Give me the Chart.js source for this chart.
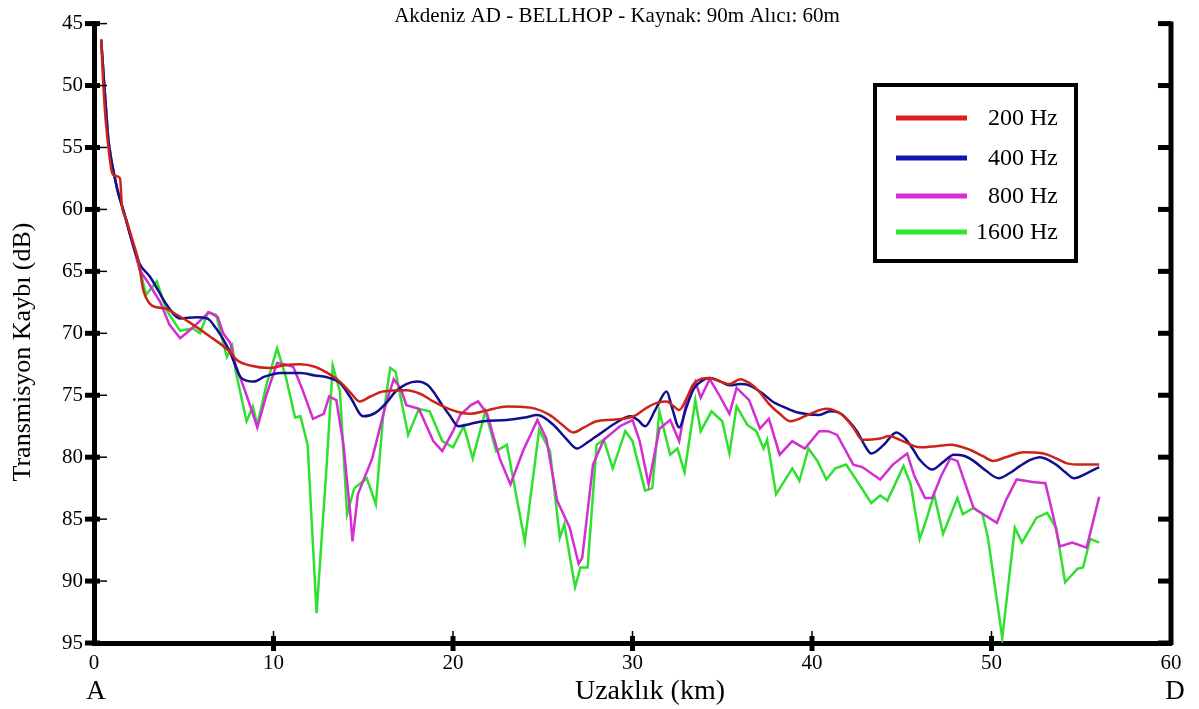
<!DOCTYPE html>
<html>
<head>
<meta charset="utf-8">
<script src="https://cdn.jsdelivr.net/npm/chart.js@4/dist/chart.umd.min.js"></script>
<style>
  html, body { margin: 0; padding: 0; background: #ffffff; }
  #wrap { width: 1199px; height: 709px; }
</style>
</head>
<body>
<div id="wrap"><canvas id="tl" width="1199" height="709"></canvas></div>
<script>
// Transmission loss versus range, four frequencies (BELLHOP run)
const chartTitle = 'Akdeniz AD - BELLHOP - Kaynak: 90m Alıcı: 60m';
const xTitle = 'Uzaklık (km)';
const yTitle = 'Transmisyon Kaybı (dB)';
const seriesLabels = ['200 Hz', '400 Hz', '800 Hz', '1600 Hz'];
const xTicks = [0, 10, 20, 30, 40, 50, 60];
const yTicks = [45, 50, 55, 60, 65, 70, 75, 80, 85, 90, 95];

// 200 Hz
const km200 = [0.4,0.5,0.65,0.85,1.0,1.2,1.45,1.55,1.8,2.17,2.5,2.73,3.1,3.5,4.0,4.5,5.3,6.4,7.5,8.0,8.7,9.8,10.5,11.5,12.3,13.0,13.7,14.3,14.8,15.4,16.1,17.4,18.2,18.9,19.6,20.4,21.0,21.7,23.0,24.3,25.4,26.1,26.7,27.3,28.0,29.5,30.2,30.8,31.4,31.9,32.3,32.6,33.0,33.4,34.3,34.9,35.4,36.0,36.5,37.0,37.6,38.2,38.8,39.3,39.9,40.8,41.2,41.7,42.3,42.8,43.8,44.3,44.9,46.0,47.0,47.7,48.8,49.5,50.1,50.8,51.8,52.9,53.6,54.2,55.0,56.0];
const tl200 = [46.3,49.4,52.8,55.6,57.0,57.3,57.5,59.6,60.8,62.6,64.3,66.4,67.6,67.9,68.0,68.4,69.1,70.2,71.4,72.2,72.6,72.8,72.6,72.5,72.7,73.2,73.9,74.8,75.5,75.1,74.7,74.6,74.9,75.5,76.0,76.4,76.5,76.3,75.9,76.0,76.6,77.4,78.0,77.6,77.1,76.9,76.6,76.0,75.6,75.5,75.9,76.2,75.3,74.1,73.6,73.9,74.1,73.7,74.0,74.6,75.7,76.5,77.1,76.9,76.5,76.1,76.2,76.6,77.6,78.6,78.5,78.3,78.6,79.2,79.1,79.0,79.4,79.9,80.3,80.0,79.6,79.7,80.1,80.5,80.6,80.6];

// 400 Hz
const km400 = [0.4,0.55,0.8,1.0,1.3,1.7,2.1,2.55,3.1,3.6,4.05,4.8,5.7,6.3,6.8,7.2,7.6,8.2,8.9,9.5,10.4,11.5,12.3,13.1,13.7,14.3,15.0,15.7,16.3,16.8,17.4,18.0,18.6,18.9,19.4,19.8,20.3,21.0,21.7,23.0,24.0,24.7,25.6,26.3,26.9,27.5,28.2,29.0,29.9,30.3,30.7,31.3,31.9,32.2,32.6,33.0,33.4,33.8,34.3,34.9,35.4,36.0,36.5,37.2,37.8,38.5,39.2,40.4,41.0,41.5,42.0,42.5,43.0,43.3,44.0,44.7,45.2,45.6,46.0,46.7,47.3,47.9,48.5,49.0,49.7,50.4,51.0,51.6,52.2,52.7,53.6,54.1,54.6,55.3,56.0];
const tl400 = [46.3,49.5,54.4,56.3,58.4,60.4,62.5,64.4,65.4,66.6,67.7,68.8,68.7,68.8,69.6,70.5,71.6,73.6,73.9,73.5,73.2,73.2,73.4,73.6,74.0,75.2,76.7,76.4,75.6,74.7,74.1,73.9,74.2,74.7,75.8,76.6,77.5,77.3,77.1,77.0,76.8,76.6,77.4,78.5,79.3,78.8,78.1,77.3,76.7,77.0,77.5,76.1,74.7,76.0,77.6,76.0,74.5,73.9,73.6,73.9,74.2,74.1,74.2,74.8,75.5,76.0,76.4,76.6,76.3,76.4,77.0,77.9,79.2,79.7,79.0,78.0,78.5,79.3,80.2,81.0,80.4,79.8,79.9,80.3,81.1,81.7,81.3,80.7,80.2,80.0,80.6,81.2,81.7,81.3,80.8];

// 800 Hz
const km800 = [0.4,0.55,0.8,1.0,1.3,1.7,2.1,2.55,3.1,3.7,4.2,4.8,5.3,5.9,6.4,6.9,7.2,7.6,7.9,8.5,9.1,9.6,10.2,10.6,11.1,11.6,12.2,12.8,13.1,13.5,13.9,14.3,14.4,14.7,15.5,16.3,16.7,17.1,17.4,18.1,18.9,19.4,20.0,20.4,21.0,21.4,21.9,22.6,23.2,23.9,24.7,25.2,25.8,26.5,27.0,27.2,27.8,28.4,29.3,30.0,30.4,30.9,31.5,32.1,32.6,33.0,33.5,33.8,34.3,34.8,35.4,35.8,36.5,37.1,37.6,38.2,38.9,39.6,40.4,40.9,41.4,42.3,42.8,43.8,44.5,45.3,45.7,46.3,46.7,47.2,47.7,48.1,49.0,50.3,50.8,51.4,52.3,53.0,53.4,53.8,54.5,55.3,56.0];
const tl800 = [46.3,49.5,54.4,56.3,58.4,60.4,62.5,64.9,66.1,67.5,69.3,70.4,69.8,69.0,68.3,68.7,70.0,70.8,72.6,75.0,77.6,75.0,72.4,72.5,72.7,74.5,76.9,76.5,75.1,75.4,79.0,84.9,86.8,83.0,80.1,75.5,73.7,74.5,75.8,76.1,78.7,79.5,77.9,76.6,75.8,75.5,76.5,80.1,82.2,79.5,77.0,78.5,83.5,85.7,88.6,88.1,80.6,78.6,77.5,77.0,78.7,82.2,77.7,77.0,78.7,75.5,73.9,75.2,73.7,74.9,76.5,74.4,75.4,77.7,76.9,79.8,78.7,79.3,77.9,77.9,78.2,80.6,80.8,81.8,80.6,79.7,81.5,83.3,83.3,81.5,80.1,80.3,84.1,85.3,83.5,81.8,82.0,82.1,84.5,87.2,86.9,87.3,83.2];

// 1600 Hz
const km1600 = [0.4,0.55,0.8,1.0,1.3,1.7,2.1,2.55,2.9,3.5,4.0,4.2,4.8,5.5,5.9,6.35,6.8,7.4,7.7,7.9,8.5,8.85,9.1,9.6,10.2,10.7,11.2,11.5,11.9,12.4,12.95,13.3,13.7,14.1,14.5,15.2,15.7,16.1,16.5,16.8,17.5,18.1,18.7,19.4,20.0,20.6,21.1,21.8,22.4,23.0,24.0,24.8,25.4,25.95,26.2,26.8,27.1,27.5,28.0,28.4,28.9,29.6,30.0,30.7,31.1,31.5,32.1,32.5,32.9,33.5,33.8,34.4,35.0,35.4,35.8,36.4,36.9,37.3,37.5,38.0,38.9,39.3,39.8,40.3,40.8,41.3,41.9,42.5,43.3,43.8,44.2,45.1,45.5,46.0,46.4,46.8,47.3,48.1,48.4,49.0,49.5,49.8,50.6,51.3,51.7,52.5,53.1,53.6,54.1,54.8,55.1,55.5,56.0];
const tl1600 = [46.3,49.5,54.4,56.3,58.4,60.4,62.5,64.8,66.9,65.8,68.0,68.5,69.8,69.6,70.0,68.3,68.5,71.9,71.0,73.1,77.1,75.9,77.4,74.2,71.2,73.6,76.8,76.7,79.0,92.6,80.9,72.6,74.7,84.6,82.5,81.7,83.8,76.8,72.8,73.1,78.2,76.1,76.3,78.7,79.2,77.5,80.1,76.3,79.5,79.0,86.8,77.8,79.5,86.5,85.4,90.5,88.9,88.9,79.0,78.6,80.9,77.9,78.7,82.7,82.5,76.3,79.8,79.3,81.2,75.4,77.9,76.3,77.1,79.7,75.9,77.4,77.9,79.3,78.6,83.0,80.9,81.9,79.3,80.3,81.8,80.9,80.6,81.9,83.7,83.1,83.5,80.7,82.2,86.6,84.9,83.0,86.2,83.3,84.6,84.1,84.6,86.5,94.6,85.7,86.9,84.9,84.5,85.7,90.1,89.0,88.9,86.6,86.9];

const serif = '"Liberation Serif", "DejaVu Serif", serif';
const colors = ['#cc2418', '#10108e', '#d22ed2', '#2fe02f'];
const legendColors = ['#dd1e1e', '#1414b0', '#d82ed8', '#2ae82a'];

function toPoints(xs, ys) { return xs.map((x, i) => ({ x: x, y: ys[i] })); }

// Axis decorations: tick marks on the frame, titles, end letters and the key box
const frameDecor = {
  id: 'frameDecor',
  afterDraw(chart) {
    const ctx = chart.ctx;
    const xs = chart.scales.x, ys = chart.scales.y;
    const left = xs.left, right = xs.right, top = ys.top, bottom = ys.bottom;
    ctx.save();
    ctx.strokeStyle = '#000';
    ctx.lineCap = 'butt';
    // left axis ticks (thick across the axis, thin inward stub)
    yTicks.forEach(v => {
      const py = ys.getPixelForValue(v);
      ctx.lineWidth = 5;
      ctx.beginPath(); ctx.moveTo(left - 9, py); ctx.lineTo(left + 6, py); ctx.stroke();
      ctx.lineWidth = 1.5;
      ctx.beginPath(); ctx.moveTo(left + 6, py); ctx.lineTo(left + 13, py); ctx.stroke();
      // right axis ticks point inward
      ctx.lineWidth = 5;
      ctx.beginPath(); ctx.moveTo(right - 13, py); ctx.lineTo(right, py); ctx.stroke();
    });
    // bottom axis ticks
    xTicks.slice(1, -1).forEach(v => {
      const px = xs.getPixelForValue(v);
      ctx.lineWidth = 5;
      ctx.beginPath(); ctx.moveTo(px, bottom - 7); ctx.lineTo(px, bottom + 8); ctx.stroke();
      ctx.lineWidth = 1.5;
      ctx.beginPath(); ctx.moveTo(px, bottom - 12); ctx.lineTo(px, bottom - 7); ctx.stroke();
    });
    // right frame line
    ctx.lineWidth = 5;
    ctx.beginPath(); ctx.moveTo(right, top - 2); ctx.lineTo(right, bottom + 2); ctx.stroke();

    ctx.fillStyle = '#000';
    // title
    ctx.font = '21px ' + serif;
    ctx.textAlign = 'center';
    ctx.textBaseline = 'alphabetic';
    ctx.fillText(chartTitle, 617, 22);
    // x title and end letters
    ctx.font = '28px ' + serif;
    ctx.fillText(xTitle, 650, 699);
    ctx.font = '27px ' + serif;
    ctx.fillText('A', xs.getPixelForValue(0) + 2, 699);
    ctx.fillText('D', xs.getPixelForValue(60) + 4, 699);
    // y title
    ctx.save();
    ctx.font = '26px ' + serif;
    ctx.translate(30, 352);
    ctx.rotate(-Math.PI / 2);
    ctx.fillText(yTitle, 0, 0);
    ctx.restore();

    // key box
    ctx.lineWidth = 4;
    ctx.strokeRect(875, 85, 201, 176);
    const rows = [118, 158, 196, 232];
    chart.data.datasets.forEach((ds, i) => {
      ctx.strokeStyle = legendColors[i];
      ctx.lineWidth = 5;
      ctx.beginPath(); ctx.moveTo(896, rows[i]); ctx.lineTo(967, rows[i]); ctx.stroke();
      ctx.fillStyle = '#000';
      ctx.font = '24px ' + serif;
      ctx.textAlign = 'right';
      ctx.textBaseline = 'middle';
      ctx.fillText(ds.label, 1058, rows[i] + 1);
    });
    ctx.restore();
  }
};

const datasets = [
  { label: seriesLabels[0], data: toPoints(km200, tl200), borderColor: colors[0], cubicInterpolationMode: 'monotone' },
  { label: seriesLabels[1], data: toPoints(km400, tl400), borderColor: colors[1], cubicInterpolationMode: 'monotone' },
  { label: seriesLabels[2], data: toPoints(km800, tl800), borderColor: colors[2], tension: 0 },
  { label: seriesLabels[3], data: toPoints(km1600, tl1600), borderColor: colors[3], tension: 0 }
].map(d => Object.assign({ borderWidth: 2.5, pointRadius: 0, fill: false }, d));

new Chart(document.getElementById('tl'), {
  type: 'line',
  data: { datasets: datasets },
  plugins: [frameDecor],
  options: {
    responsive: false,
    animation: false,
    events: [],
    layout: { padding: { top: 20, right: 28, left: 0, bottom: 0 } },
    plugins: { legend: { display: false }, title: { display: false }, tooltip: { enabled: false } },
    scales: {
      x: {
        type: 'linear', min: 0, max: 60,
        afterBuildTicks: s => { s.ticks = xTicks.map(v => ({ value: v })); },
        afterFit: s => { s.height = 66; },
        grid: { display: true, drawOnChartArea: false, drawTicks: false },
        border: { display: true, color: '#000', width: 5 },
        ticks: { padding: 8, color: '#000', font: { family: serif, size: 21 }, maxRotation: 0 }
      },
      y: {
        type: 'linear', min: 45, max: 95, reverse: true,
        afterBuildTicks: s => { s.ticks = yTicks.map(v => ({ value: v })); },
        afterFit: s => { s.width = 94; },
        grid: { display: true, drawOnChartArea: false, drawTicks: false },
        border: { display: true, color: '#000', width: 5 },
        ticks: { padding: 11, color: '#000', font: { family: serif, size: 21 } }
      }
    }
  }
});
</script>
</body>
</html>
